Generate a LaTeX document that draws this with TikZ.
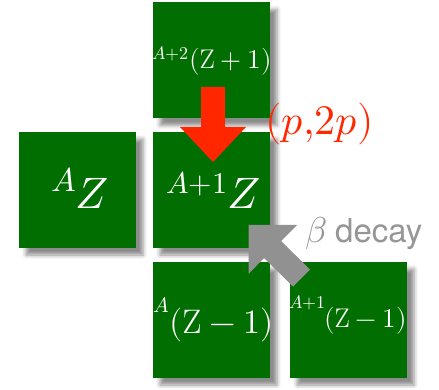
\documentclass[tikz,border=0pt]{standalone}
\usepackage{unicode-math}
\newfontfamily\sansf{TeX Gyre Heros}
\usetikzlibrary{shadows.blur}
\newcommand\myfs[1]{\fontsize{#1}{#1}\selectfont}
\definecolor{boxgreen}{RGB}{0,110,0}
\definecolor{arrred}{RGB}{255,38,0}
\definecolor{arrgray}{RGB}{145,145,145}
\definecolor{txtgray}{RGB}{150,150,150}
\tikzset{
  nucbox/.style={fill=boxgreen, minimum width=117pt, minimum height=116pt, inner sep=0pt,
    blur shadow={shadow xshift=7pt, shadow yshift=-7pt, shadow blur radius=4pt, shadow opacity=45}},
  lbl/.style={anchor=base west, inner sep=0pt, text=white}
}
\begin{document}
\begin{tikzpicture}[x=1pt, y=-1pt]
\useasboundingbox (0,0) rectangle (439,390);
% boxes
\node[nucbox] (top) at (211.5,60.5) {};
\node[nucbox] (left) at (77.5,190) {};
\node[nucbox] (mid) at (211.5,190) {};
\node[nucbox] (botl) at (211.5,320) {};
\node[nucbox] (botr) at (348.5,320) {};
% labels
\node[lbl] (lA) at (51,192) {\myfs{33}$A$};
\node[lbl] (lZ) at (75,209) {\myfs{44}$Z$};
\node[lbl] (mA) at (166,194) {\myfs{30}$A{+}1$};
\node[lbl] (mZ) at (227,209) {\myfs{44}$Z$};
\node[lbl] (tA) at (152,60) {\myfs{18}$A{+}2$};
\node[lbl] (tZ) at (189,69) {\myfs{27}$(\mathrm{Z}+1)$};
\node[lbl] (blA) at (153,312) {\myfs{21}$A$};
\node[lbl] (blZ) at (169,333) {\myfs{34}$(\mathrm{Z}-1)$};
\node[lbl] (brA) at (289,308) {\myfs{18}$A{+}1$};
\node[lbl] (brZ) at (324,327) {\myfs{27}$(\mathrm{Z}-1)$};
% red arrow (p,2p)
\fill[arrred] (201,87) -- (225,87) -- (225,127) -- (246,127) -- (213,162) -- (180,127) -- (201,127) -- cycle;
\node[anchor=base west, inner sep=0pt, text=arrred] (pp) at (265,135) {\myfs{42}$(p{,}2p)$};
% gray arrow beta decay
\fill[arrgray] (248.5,225) -- (297,225) -- (281,241) -- (310,269.5) -- (293,286.5) -- (264,258) -- (248.5,274) -- cycle;
\node[anchor=base west, inner sep=0pt, text=txtgray] (beta) at (305,243) {\myfs{36}$\beta$};
\node[anchor=base west, inner sep=0pt, text=txtgray] (decay) at (335,243) {\sansf\myfs{33}decay};
\end{tikzpicture}
\end{document}
